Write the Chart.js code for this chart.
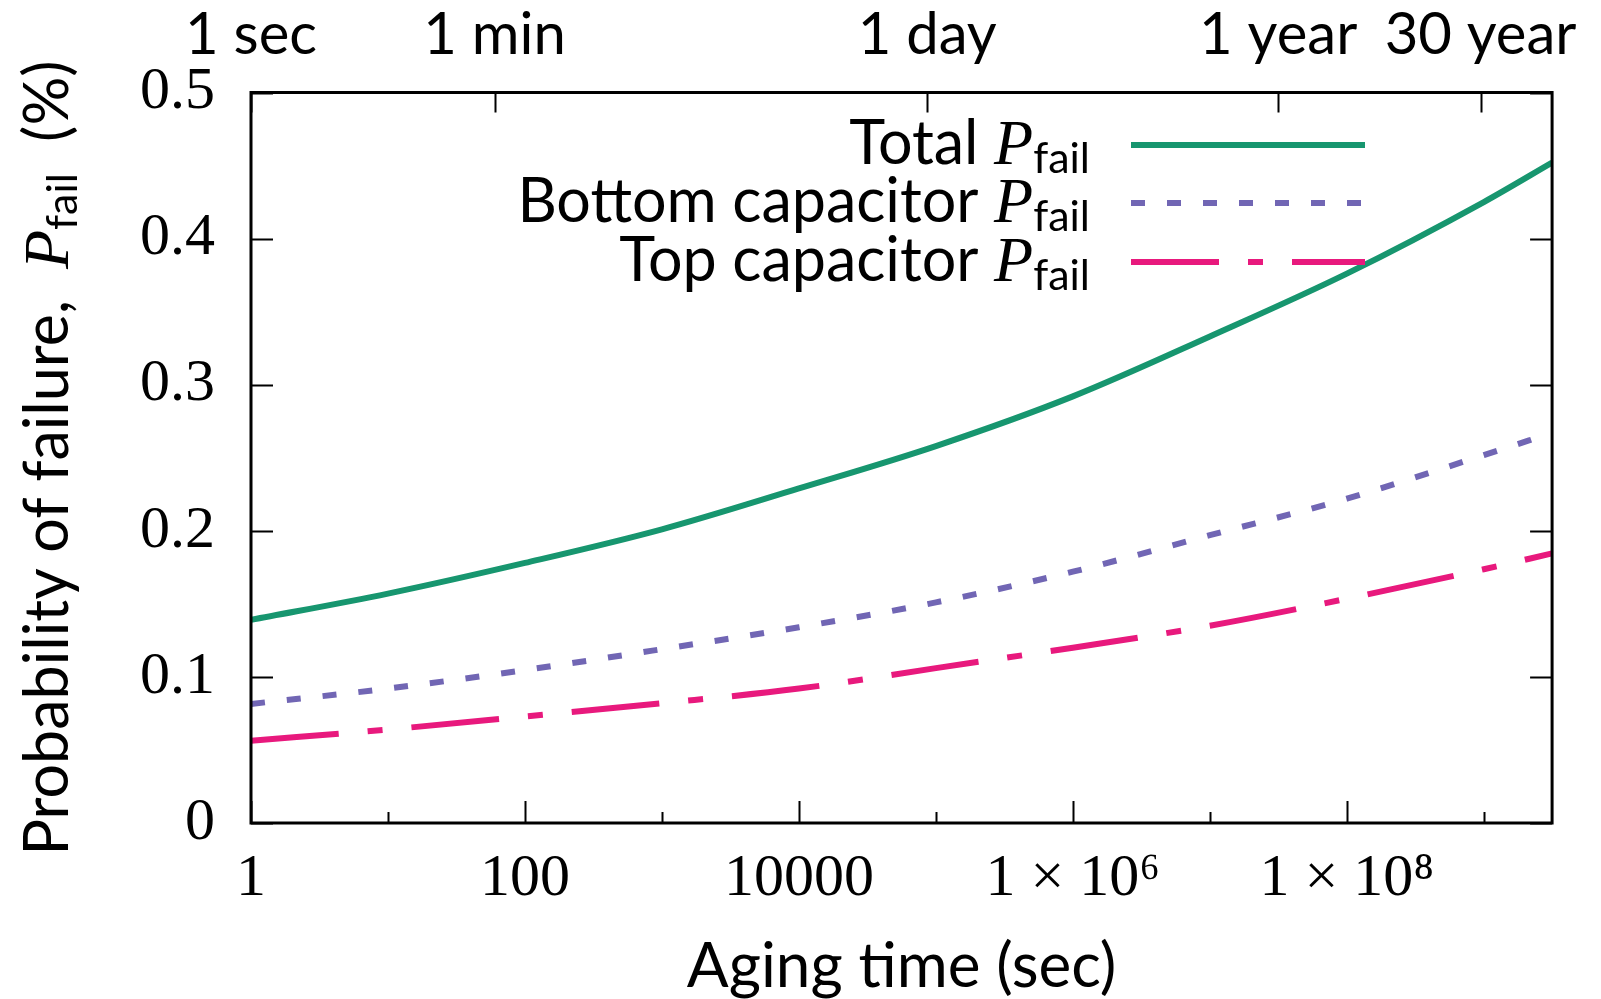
<!DOCTYPE html>
<html><head><meta charset="utf-8">
<script src="https://cdn.jsdelivr.net/npm/chart.js@4.4.1/dist/chart.umd.min.js"></script>
<style>html,body{margin:0;padding:0;background:#fff;overflow:hidden}#wrap{width:1601px;height:999px;position:relative}</style>
</head><body><div id="wrap"><canvas id="c" width="1601" height="999"></canvas></div>
<script>
// ---- data ----
const agingTime   = [1, 10, 100, 1e3, 1e4, 1e5, 1e6, 1e7, 1e8, 1e9, 3.15e9];
const totalPfail  = [0.139, 0.157, 0.178, 0.201, 0.229, 0.258, 0.292, 0.333, 0.376, 0.425, 0.452];
const bottomPfail = [0.0815, 0.092, 0.1047, 0.119, 0.134, 0.151, 0.172, 0.197, 0.222, 0.2518, 0.267];
const topPfail    = [0.0563, 0.0640, 0.0729, 0.082, 0.092, 0.106, 0.120, 0.135, 0.1535, 0.1737, 0.1845];
const seriesNames = ['Total', 'Bottom capacitor', 'Top capacitor'];
const xTickValues = [1, 10, 100, 1e3, 1e4, 1e5, 1e6, 1e7, 1e8, 1e9];
const xTickLabels = ['1', '', '100', '', '10000', '', '1 \u00d7 10\u2076', '', '1 \u00d7 10\u2078', ''];
const topTickValues = [1, 60, 86400, 31536000, 946080000];
const topTickLabels = ['1 sec', '1 min', '1 day', '1 year', '30 year'];
const yTickValues = [0, 0.1, 0.2, 0.3, 0.4, 0.5];
const yTickLabels = ['0', '0.1', '0.2', '0.3', '0.4', '0.5'];
const xTitle = 'Aging time (sec)';
const yTitleParts = ['Probability of failure,  ', 'P', 'fail', '  (%)'];

const SANS = 'Lato';
const SERIF = '"Liberation Serif"';
const colors = ['#17966f', '#7166b4', '#e8197d'];
const dashes = [[], [14, 22], [88, 29, 15, 29]];

function rich(ctx, parts, x, y, align) {
  let w = 0;
  parts.forEach(p => { ctx.font = p.font; w += ctx.measureText(p.t).width; });
  let cx = align === 'right' ? x - w : (align === 'center' ? x - w / 2 : x);
  ctx.textAlign = 'left';
  ctx.textBaseline = 'alphabetic';
  parts.forEach(p => { ctx.font = p.font; ctx.fillText(p.t, cx, y + (p.dy || 0)); cx += ctx.measureText(p.t).width; });
}
function pfailParts(prefix, suffix, size) {
  const arr = [];
  if (prefix) arr.push({t: prefix, font: size + 'px ' + SANS});
  arr.push({t: 'P', font: 'italic ' + Math.round(size * 1.05) + 'px ' + SERIF});
  arr.push({t: 'fail', font: Math.round(size * 0.7) + 'px ' + SANS, dy: Math.round(size * 0.15)});
  if (suffix) arr.push({t: suffix, font: size + 'px ' + SANS});
  return arr;
}

const decor = {
  id: 'decor',
  afterDraw(chart) {
    const ctx = chart.ctx, a = chart.chartArea;
    const sx = chart.scales.x, sx2 = chart.scales.x2, sy = chart.scales.y;
    ctx.save();
    ctx.strokeStyle = '#000';
    ctx.lineWidth = 2;
    ctx.beginPath();
    xTickValues.forEach((v, i) => {
      const px = Math.round(sx.getPixelForValue(v)) + 0.5;
      const len = xTickLabels[i] ? 22 : 11;
      ctx.moveTo(px, a.bottom); ctx.lineTo(px, a.bottom - len);
    });
    topTickValues.forEach(v => {
      const px = Math.round(sx2.getPixelForValue(v)) + 0.5;
      ctx.moveTo(px, a.top); ctx.lineTo(px, a.top + 20);
    });
    yTickValues.forEach(v => {
      const py = Math.round(sy.getPixelForValue(v)) + 0.5;
      ctx.moveTo(a.left, py); ctx.lineTo(a.left + 22, py);
      ctx.moveTo(a.right, py); ctx.lineTo(a.right - 22, py);
    });
    ctx.stroke();
    ctx.lineWidth = 3;
    ctx.strokeRect(a.left, a.top, a.right - a.left, a.bottom - a.top);

    // legend
    ctx.fillStyle = '#000';
    const rowY = [145, 203, 262];
    seriesNames.forEach((n, i) => {
      rich(ctx, pfailParts(n + ' ', '', 61), 1090, rowY[i] + 19, 'right');
      ctx.strokeStyle = colors[i];
      ctx.lineWidth = 6;
      ctx.lineCap = 'butt';
      ctx.setLineDash(dashes[i]);
      ctx.beginPath(); ctx.moveTo(1131, rowY[i]); ctx.lineTo(1365, rowY[i]); ctx.stroke();
      ctx.setLineDash([]);
    });

    // axis titles
    ctx.fillStyle = '#000';
    rich(ctx, [{t: xTitle, font: '62px ' + SANS}], (a.left + a.right) / 2, 987, 'center');
    ctx.save();
    ctx.translate(68, 458);
    ctx.rotate(-Math.PI / 2);
    rich(ctx, pfailParts(yTitleParts[0], yTitleParts[3], 61), 0, 0, 'center');
    ctx.restore();
    ctx.restore();
  }
};

const mk = (vals) => agingTime.map((t, i) => ({x: t, y: vals[i]}));

new Chart(document.getElementById('c'), {
  type: 'line',
  data: {
    datasets: [totalPfail, bottomPfail, topPfail].map((vals, i) => ({
      label: seriesNames[i],
      data: mk(vals),
      borderColor: colors[i],
      borderWidth: 6,
      borderDash: dashes[i],
      borderCapStyle: 'butt',
      pointRadius: 0,
      cubicInterpolationMode: 'monotone',
      fill: false
    }))
  },
  options: {
    responsive: false,
    animation: false,
    devicePixelRatio: 1,
    layout: {padding: {left: 0, right: 47, top: 0, bottom: 0}},
    plugins: {legend: {display: false}, tooltip: {enabled: false}},
    scales: {
      x: {
        type: 'logarithmic', position: 'bottom', min: 1, max: 3.15e9,
        afterBuildTicks: s => { s.ticks = xTickValues.map(v => ({value: v})); },
        afterFit: s => { s.height = 176; },
        grid: {display: false, drawTicks: false}, border: {display: false},
        ticks: {autoSkip: false, maxRotation: 0, padding: 20, color: '#000',
          font: {family: 'Liberation Serif', size: 60},
          callback: (v, i) => xTickLabels[i]}
      },
      x2: {
        type: 'logarithmic', position: 'top', min: 1, max: 3.15e9,
        afterBuildTicks: s => { s.ticks = topTickValues.map(v => ({value: v})); },
        afterFit: s => { s.height = 92.5; },
        grid: {display: false, drawTicks: false}, border: {display: false},
        ticks: {autoSkip: false, maxRotation: 0, padding: 22, color: '#000',
          font: {family: 'Lato', size: 58},
          callback: (v, i) => topTickLabels[i]}
      },
      y: {
        type: 'linear', position: 'left', min: 0, max: 0.5,
        afterBuildTicks: s => { s.ticks = yTickValues.map(v => ({value: v})); },
        afterFit: s => { s.width = 251; },
        grid: {display: false, drawTicks: false}, border: {display: false},
        ticks: {padding: 36, color: '#000', font: {family: 'Liberation Serif', size: 60},
          callback: (v, i) => yTickLabels[i]}
      }
    }
  },
  plugins: [decor]
});
</script>
</body></html>
